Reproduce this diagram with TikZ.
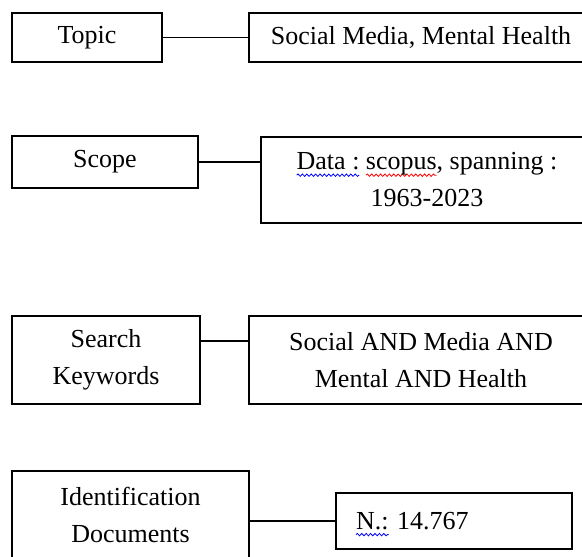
\documentclass[tikz,border=0pt]{standalone}
\usepackage{fontspec}
\setmainfont{Liberation Serif}
\usetikzlibrary{decorations.pathmorphing}
\frenchspacing
\newlength{\markwd}
\newcommand{\spellmark}[2]{\settowidth{\markwd}{#2}%
  \rlap{\tikz[overlay,baseline=0pt]\draw[#1,line width=0.4pt,decorate,
    decoration={snake,amplitude=0.6pt,segment length=2.2pt}] (0pt,-2.6pt) -- (\markwd,-2.6pt);}#2}
\tikzset{
  field/.style={draw,line width=0.7pt,inner sep=2pt,align=center,
    font=\fontsize{13}{18.5}\selectfont},
  link/.style={line width=0.7pt}
}

\begin{document}
\begin{tikzpicture}[x=0.5pt,y=-0.5pt]
  \path[use as bounding box,clip] (0,0) rectangle (582,556);
  % left column
  \node[field,minimum width=75pt,minimum height=24.5pt] (topic) at (87,37.5) {Topic};
  \node[field,minimum width=93pt,minimum height=26pt] (scope) at (105,162) {Scope};
  \node[field,minimum width=94pt,minimum height=44pt] (keywords) at (106,360) {Search\\Keywords};
  \node[field,minimum width=118.5pt,minimum height=43.5pt] (ident) at (130.5,514.5) {Identification\\Documents};
  % right column
  \node[field,minimum width=172pt,minimum height=24.5pt] (topicval) at (421,37.5) {Social Media, Mental Health};
  \node[field,minimum width=166pt,minimum height=43pt] (scopeval) at (427,180)
    {\spellmark{blue}{Data :} \spellmark{red}{scopus}, spanning :\\1963-2023};
  \node[field,minimum width=172pt,minimum height=44pt] (keywordsval) at (421,360)
    {Social AND Media AND\\Mental AND Health};
  \node[field,align=left,text width=98pt,inner xsep=10pt,minimum height=28pt] (count) at (454,521)
    {\spellmark{blue}{N.:} 14.767};
  % links
  \draw[link] (topic.east) -- (topicval.west);
  \draw[link] (scope.east) -- (scope.east -| scopeval.west);
  \draw[link] ([yshift=9.5pt]keywords.east) -- ([yshift=9.5pt]keywordsval.west);
  \draw[link] (ident.east |- count.west) -- (count.west);
\end{tikzpicture}
\end{document}
